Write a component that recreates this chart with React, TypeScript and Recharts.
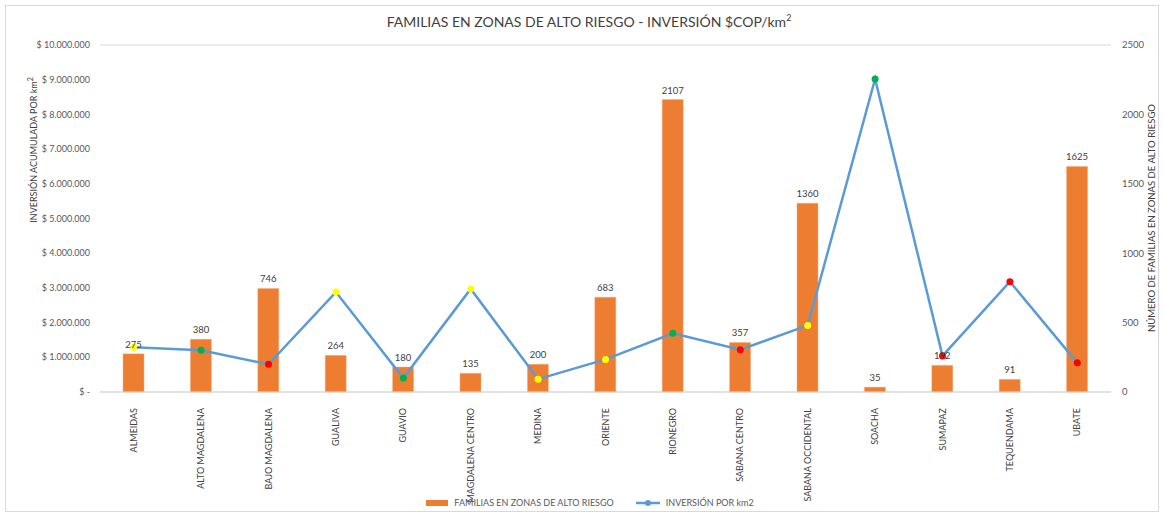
import React from "react";
import {
  ComposedChart,
  Bar,
  Line,
  XAxis,
  YAxis,
  CartesianGrid,
  LabelList,
} from "recharts";

const provinces = [
  "ALMEIDAS",
  "ALTO MAGDALENA",
  "BAJO MAGDALENA",
  "GUALIVA",
  "GUAVIO",
  "MAGDALENA CENTRO",
  "MEDINA",
  "ORIENTE",
  "RIONEGRO",
  "SABANA CENTRO",
  "SABANA OCCIDENTAL",
  "SOACHA",
  "SUMAPAZ",
  "TEQUENDAMA",
  "UBATE",
];

const families = [275, 380, 746, 264, 180, 135, 200, 683, 2107, 357, 1360, 35, 192, 91, 1625];

const investment = [
  1290000, 1200000, 800000, 2880000, 400000, 2970000, 370000, 940000,
  1690000, 1220000, 1920000, 9020000, 1040000, 3180000, 840000,
];

// semaphore colour of each point
const pointColors = [
  "#FFFF00", "#00B050", "#FF0000", "#FFFF00", "#00B050", "#FFFF00", "#FFFF00", "#FFFF00",
  "#00B050", "#FF0000", "#FFFF00", "#00B050", "#FF0000", "#FF0000", "#FF0000",
];

const leftTicks = [0, 1000000, 2000000, 3000000, 4000000, 5000000, 6000000, 7000000, 8000000, 9000000, 10000000];
const rightTicks = [0, 500, 1000, 1500, 2000, 2500];

const data = provinces.map((name, i) => ({
  name,
  familias: families[i],
  inversion: investment[i],
  color: pointColors[i],
}));

const FONT = "Lato, 'Open Sans', sans-serif";
const TEXT = "#595959";

const money = (v: number) =>
  v === 0 ? "$ -" : "$ " + v.toString().replace(/\B(?=(\d{3})+(?!\d))/g, ".");

const CategoryTick = (props: any) => {
  const { x, y, payload } = props;
  return (
    <text
      x={0}
      y={0}
      transform={`translate(${x + 3},${y + 8}) rotate(-90)`}
      textAnchor="end"
      fontSize={9}
      fill="#404040"
      fontFamily={FONT}
    >
      {payload.value}
    </text>
  );
};

const ColoredDot = (props: any) => {
  const { cx, cy, payload, index } = props;
  return <circle key={index} cx={cx} cy={cy} r={3.5} fill={payload.color} stroke="none" />;
};

export default function App() {
  return (
    <div
      style={{
        position: "absolute",
        left: 0,
        top: 0,
        width: 1164,
        height: 516,
        background: "#fff",
        fontFamily: FONT,
      }}
    >
      <div
        style={{
          position: "absolute",
          left: 5,
          top: 5,
          width: 1152,
          height: 505,
          border: "1px solid #D9D9D9",
        }}
      />
      <div
        style={{
          position: "absolute",
          top: 12,
          left: 0,
          width: 1178,
          textAlign: "center",
          fontSize: 14,
          color: "#404040",
        }}
      >
        FAMILIAS EN ZONAS DE ALTO RIESGO - INVERSIÓN $COP/km<sup style={{ fontSize: 9 }}>2</sup>
      </div>
      <ComposedChart
        width={1164}
        height={516}
        data={data}
        margin={{ top: 45, right: 0, left: 0, bottom: 24 }}
        barCategoryGap={23}
      >
        <CartesianGrid vertical={false} stroke="#D9D9D9" />
        <XAxis
          dataKey="name"
          height={100}
          interval={0}
          tick={<CategoryTick />}
          tickLine={false}
          axisLine={{ stroke: "#D9D9D9" }}
        />
        <YAxis
          yAxisId="left"
          width={100}
          domain={[0, 10000000]}
          ticks={leftTicks}
          tickFormatter={money}
          tick={{ fontSize: 9, fill: TEXT, fontFamily: FONT }}
          tickLine={false}
          axisLine={false}
          tickSize={0}
          tickMargin={10}
        />
        <YAxis
          yAxisId="right"
          orientation="right"
          width={53}
          domain={[0, 2500]}
          ticks={rightTicks}
          tick={{ fontSize: 9.5, fill: TEXT, fontFamily: FONT, textAnchor: "start" }}
          tickLine={false}
          axisLine={false}
          tickSize={0}
          tickMargin={11}
        />
        <Bar
          yAxisId="right"
          dataKey="familias"
          fill="#ED7D31"
          stroke="#F4B183"
          strokeWidth={0.5}
          isAnimationActive={false}
        >
          <LabelList
            dataKey="familias"
            position="top"
            offset={6}
            style={{ fontSize: 9.5, fill: "#404040", fontFamily: FONT }}
          />
        </Bar>
        <Line
          yAxisId="left"
          dataKey="inversion"
          stroke="#5B9BD5"
          strokeWidth={2.5}
          dot={<ColoredDot />}
          activeDot={false}
          isAnimationActive={false}
        />
        <text
          x={0}
          y={0}
          transform="translate(37,150) rotate(-90)"
          textAnchor="middle"
          fontSize={9}
          fill="#404040"
          fontFamily={FONT}
        >
          INVERSIÓN ACUMULADA  POR km
          <tspan fontSize={7} dy={-4}>2</tspan>
        </text>
        <text
          x={0}
          y={0}
          transform="translate(1155,218) rotate(-90)"
          textAnchor="middle"
          fontSize={9.5}
          fill="#404040"
          fontFamily={FONT}
        >
          NÚMERO DE FAMILIAS EN ZONAS DE ALTO RIESGO
        </text>
      </ComposedChart>
      <div
        style={{
          position: "absolute",
          top: 497,
          left: 0,
          width: 1164,
          display: "flex",
          justifyContent: "center",
          fontSize: 9,
          color: "#595959",
          gap: 22,
          paddingLeft: 16,
          boxSizing: "border-box",
        }}
      >
        <div style={{ display: "flex", alignItems: "center", gap: 6 }}>
          <span style={{ display: "inline-block", width: 22, height: 6, background: "#ED7D31" }} />
          FAMILIAS EN ZONAS DE ALTO RIESGO
        </div>
        <div style={{ display: "flex", alignItems: "center", gap: 6 }}>
          <svg width={24} height={8}>
            <line x1={0} y1={4} x2={24} y2={4} stroke="#5B9BD5" strokeWidth={2.5} />
            <circle cx={12} cy={4} r={3} fill="#5B9BD5" />
          </svg>
          INVERSIÓN POR km2
        </div>
      </div>
    </div>
  );
}
